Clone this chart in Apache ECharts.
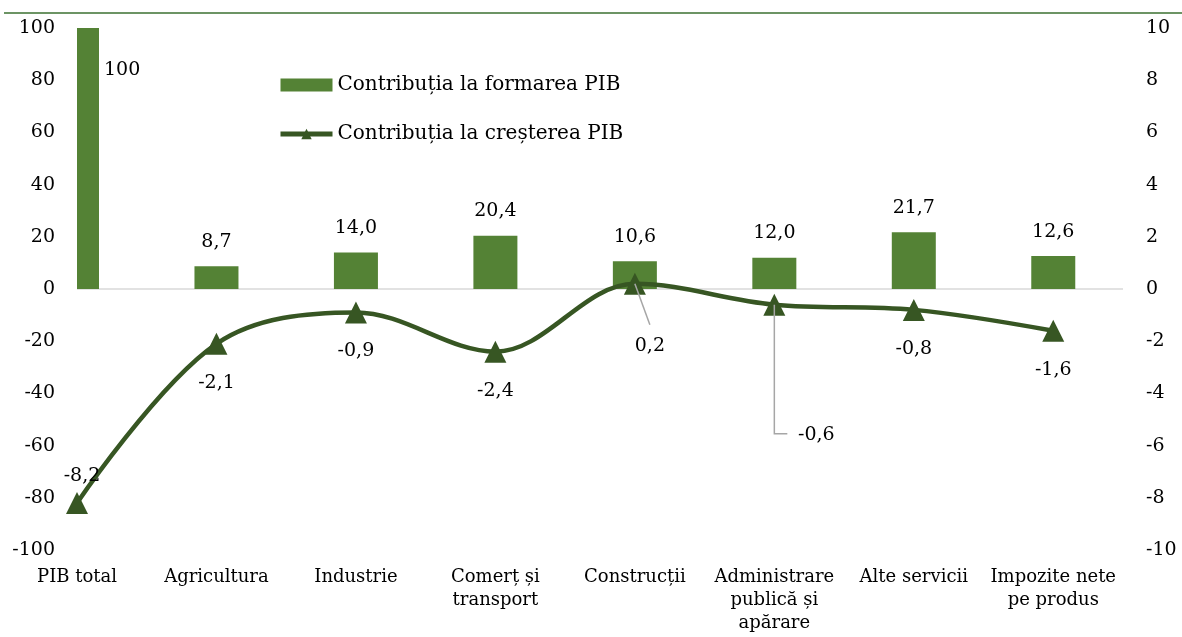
<!DOCTYPE html>
<html><head><meta charset="utf-8">
<script src="https://cdn.jsdelivr.net/npm/echarts@6/dist/echarts.min.js"></script>
<style>html,body{margin:0;padding:0;background:#fff}#c{width:1182px;height:637px}</style>
</head><body><div id="c"></div>
<script>
const categories = ['PIB total', 'Agricultura', 'Industrie', 'Comerț și\ntransport', 'Construcții', 'Administrare\npublică și\napărare', 'Alte servicii', 'Impozite nete\npe produs'];
const formareValues = [100, 8.7, 14.0, 20.4, 10.6, 12.0, 21.7, 12.6];
const crestereValues = [-8.2, -2.1, -0.9, -2.4, 0.2, -0.6, -0.8, -1.6];
const seriesNames = ['Contribuția la formarea PIB', 'Contribuția la creșterea PIB'];
const leftAxis = { min: -100, max: 100, interval: 20 };
const rightAxis = { min: -10, max: 10, interval: 2 };

const FONT = 'DejaVu Serif';
const BAR_COLOR = '#548235';
const LINE_COLOR = '#375623';
const fmt = v => (Number.isInteger(v) && Math.abs(v) >= 100) ? String(v) : v.toFixed(1).replace('.', ',');

// label offsets (styling) for the line points
const lineLabelOffsets = [[5, -27], [0, 39], [0, 39], [0, 39], [15, 62], [42, 130], [0, 39], [0, 39]];

const chart = echarts.init(document.getElementById('c'), null, { renderer: 'canvas' });

const barData = formareValues.map((v, i) => {
  const item = { value: [i, v] };
  if (i === 0) {
    item.label = { position: 'right', distance: 5, offset: [0, -88] };
  }
  return item;
});
const lineData = crestereValues.map((v, i) => ({
  value: [i, v],
  label: { position: 'inside', offset: lineLabelOffsets[i] }
}));

chart.setOption({
  animation: false,
  backgroundColor: '#fff',
  textStyle: { fontFamily: FONT, color: '#000' },
  grid: { left: 77, right: 59, top: 28, bottom: 87, containLabel: false },
  legend: {
    orient: 'vertical',
    left: 278,
    top: 75,
    padding: 0,
    itemWidth: 52,
    itemHeight: 13,
    itemGap: 29,
    textStyle: { fontFamily: FONT, fontSize: 20, color: '#000', lineHeight: 20 },
    data: [
      { name: seriesNames[0], icon: 'rect', itemStyle: { color: BAR_COLOR } },
      { name: seriesNames[1], lineStyle: { width: 5, color: LINE_COLOR }, itemStyle: { color: LINE_COLOR } }
    ]
  },
  xAxis: {
    type: 'value',
    min: 0,
    max: categories.length - 0.5,
    interval: 1,
    axisLine: { show: false },
    axisTick: { show: false },
    splitLine: { show: false },
    axisLabel: {
      margin: 16,
      fontFamily: FONT,
      fontSize: 18,
      lineHeight: 23,
      color: '#000',
      showMaxLabel: false,
      formatter: v => (Number.isInteger(v) && v >= 0 && v < categories.length) ? categories[v] : ''
    }
  },
  yAxis: [
    {
      type: 'value', position: 'left', z: 10,
      min: leftAxis.min, max: leftAxis.max, interval: leftAxis.interval,
      axisLine: { show: false }, axisTick: { show: false }, splitLine: { show: false },
      axisLabel: { margin: 22, fontFamily: FONT, fontSize: 19, color: '#000' }
    },
    {
      type: 'value', position: 'right', z: 10,
      min: rightAxis.min, max: rightAxis.max, interval: rightAxis.interval,
      axisLine: { show: false }, axisTick: { show: false }, splitLine: { show: false },
      axisLabel: { margin: 23, fontFamily: FONT, fontSize: 19, color: '#000' }
    }
  ],
  series: [
    {
      name: seriesNames[0],
      type: 'bar',
      xAxisIndex: 0, yAxisIndex: 0,
      barWidth: 44,
      clip: true,
      itemStyle: { color: BAR_COLOR },
      label: {
        show: true, position: 'top', distance: 15,
        fontFamily: FONT, fontSize: 19, color: '#000',
        formatter: p => fmt(p.value[1])
      },
      markLine: {
        silent: true, symbol: 'none', z: 1,
        label: { show: false },
        lineStyle: { color: '#d9d9d9', width: 1.5, type: 'solid' },
        data: [{ yAxis: 0 }]
      },
      data: barData
    },
    {
      name: seriesNames[1],
      type: 'line',
      xAxisIndex: 0, yAxisIndex: 1,
      smooth: 0.35,
      symbol: 'triangle',
      symbolSize: 22,
      z: 3,
      lineStyle: { color: LINE_COLOR, width: 4.5 },
      itemStyle: { color: LINE_COLOR },
      label: {
        show: true,
        fontFamily: FONT, fontSize: 19, color: '#000',
        formatter: p => fmt(p.value[1])
      },
      data: lineData
    }
  ]
});

// plot-area clip on the left edge (the first bar sits on the axis and is cut by the plot area),
// and leader lines for displaced labels, anchored on data points via the chart's scales
const rect = chart.getModel().getComponent('grid', 0).coordinateSystem.getRect();
const px = i => chart.convertToPixel({ xAxisIndex: 0, yAxisIndex: 1 }, [i, crestereValues[i]]);
const p4 = px(4), p5 = px(5);
chart.setOption({
  graphic: [
    { type: 'rect', z: 5, shape: { x: rect.x - 26, y: rect.y - 2, width: 26, height: rect.height / 2 + 4 }, style: { fill: '#fff' }, silent: true },
    { type: 'line', shape: { x1: 4, y1: 13, x2: 1182, y2: 13 }, style: { stroke: '#3b7030', lineWidth: 1.3 }, silent: true },
    { type: 'polyline', z: 10, shape: { points: [[p4[0], p4[1]], [p4[0] + 15, p4[1] + 41]] }, style: { stroke: '#a6a6a6', lineWidth: 1.5, fill: null }, silent: true },
    { type: 'polyline', z: 10, shape: { points: [[p5[0], p5[1]], [p5[0], p5[1] + 129], [p5[0] + 13, p5[1] + 129]] }, style: { stroke: '#a6a6a6', lineWidth: 1.5, fill: null }, silent: true }
  ]
});
</script>
</body></html>
